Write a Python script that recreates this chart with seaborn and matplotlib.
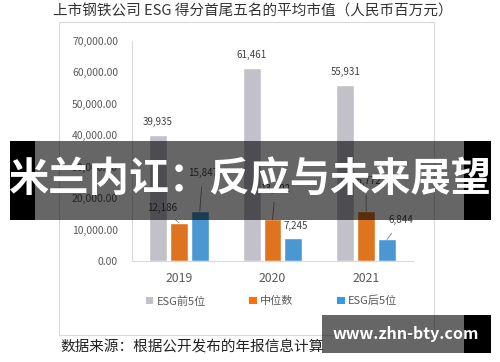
import matplotlib
matplotlib.use("Agg")
import matplotlib.pyplot as plt
from matplotlib.patches import Patch, Rectangle
import pandas as pd
import seaborn as sns

years = ["2019", "2020", "2021"]
top5 = [39935, 61461, 55931]
median = [12186, 13202, 15772]
bottom5 = [15847, 7245, 6844]
groups = ["ESG前5位", "中位数", "ESG后5位"]
colors = ["#C1C0CB", "#FF7000", "#339AE8"]

# label offsets (pixels) for each series / year, like Excel data labels
label_offsets = [
    [(0, 13), (0, 13), (0, 13)],
    [(-17, 15), (3, 31), (0, 30)],
    [(3, 38), (2, 12), (14, 19)],
]
leader = [[False] * 3, [True] * 3, [True, False, True]]

df = pd.DataFrame({
    "year": years * 3,
    "value": top5 + median + bottom5,
    "group": [g for g in groups for _ in years],
})

sns.set_theme(style="white")
plt.rcParams["font.family"] = ["Noto Sans CJK SC", "DejaVu Sans"]

fig = plt.figure(figsize=(5, 3.62), dpi=100)
ax = fig.add_axes([0.264, 0.279, 0.562, 0.608])
ax.set_facecolor("none")

sns.barplot(data=df, x="year", y="value", hue="group", palette=colors,
            width=0.67, gap=0.14, legend=False, ax=ax)

ax.set_ylim(0, 70000)
ax.set_xlim(-0.5, 2.5)
ax.set_yticks(range(0, 70001, 10000))
ax.set_yticklabels([f"{v:,.2f}" for v in range(0, 70001, 10000)])
ax.tick_params(axis="y", length=0, pad=10, labelsize=7.5, labelcolor="#595959")
ax.tick_params(axis="x", length=0, pad=8, labelsize=8.8, labelcolor="#595959")
ax.set_xlabel("")
ax.set_ylabel("")
for s in ["top", "right"]:
    ax.spines[s].set_visible(False)
for s in ["left", "bottom"]:
    ax.spines[s].set_color("#D9D9D9")
    ax.spines[s].set_linewidth(0.8)

for i, cont in enumerate(ax.containers):
    for j, bar in enumerate(cont):
        x = bar.get_x() + bar.get_width() / 2
        h = bar.get_height()
        dx, dy = label_offsets[i][j]
        arrow = dict(arrowstyle="-", color="#7F7F7F", lw=0.6, shrinkA=4, shrinkB=0) if leader[i][j] else None
        ax.annotate(f"{h:,.0f}", xy=(x, h), xytext=(dx, dy), textcoords="offset pixels",
                    ha="center", va="center", fontsize=7, color="#404040",
                    arrowprops=arrow)

handles = [Patch(facecolor=c, edgecolor="none") for c in colors]
fig.legend(handles, groups, loc="center", bbox_to_anchor=(0.543, 0.168), ncol=3,
           frameon=False, handlelength=0.7, handleheight=0.7, handletextpad=0.3,
           columnspacing=3.9, prop={"size": 8}, labelcolor="#595959")

# chart frame
fig.add_artist(Rectangle((0.118, 0.0746), 0.75, 0.8646, transform=fig.transFigure,
                         facecolor="none", edgecolor="#D9D9D9", lw=0.8, zorder=-1))

fig.text(0.505, 1 - 12 / 362, "上市钢铁公司 ESG 得分首尾五名的平均市值（人民币百万元）",
         ha="center", va="center", fontsize=10.5, color="#333333")
fig.text(0.12, 1 - 348 / 362, "数据来源：根据公开发布的年报信息计算",
         ha="left", va="center", fontsize=10.5, color="#222222")

# overlay banner
fig.add_artist(Rectangle((0.02, 0.392), 0.05, 0.218, transform=fig.transFigure,
                         facecolor="black", edgecolor="none", zorder=10))
fig.add_artist(Rectangle((0.07, 0.392), 0.858, 0.218, transform=fig.transFigure,
                         facecolor="black", alpha=0.6, edgecolor="none", zorder=10))
fig.add_artist(Rectangle((0.928, 0.392), 0.054, 0.218, transform=fig.transFigure,
                         facecolor="black", edgecolor="none", zorder=10))
fig.text(0.5, 0.503, "米兰内讧：反应与未来展望", ha="center", va="center",
         fontsize=29, fontweight="bold", color="white", zorder=11)

# watermark
fig.add_artist(Rectangle((0.644, 1 - 353 / 362), 0.284, 38 / 362, transform=fig.transFigure,
                         facecolor="black", alpha=0.6, edgecolor="none", zorder=10))
fig.add_artist(Rectangle((0.928, 1 - 353 / 362), 0.054, 38 / 362, transform=fig.transFigure,
                         facecolor="black", edgecolor="none", zorder=10))
fig.text(0.811, 1 - 334 / 362, "www.zhn-bty.com", ha="center", va="center",
         fontsize=11.5, fontweight="bold", color="white", zorder=11)

fig.savefig("out.png", dpi=100)
